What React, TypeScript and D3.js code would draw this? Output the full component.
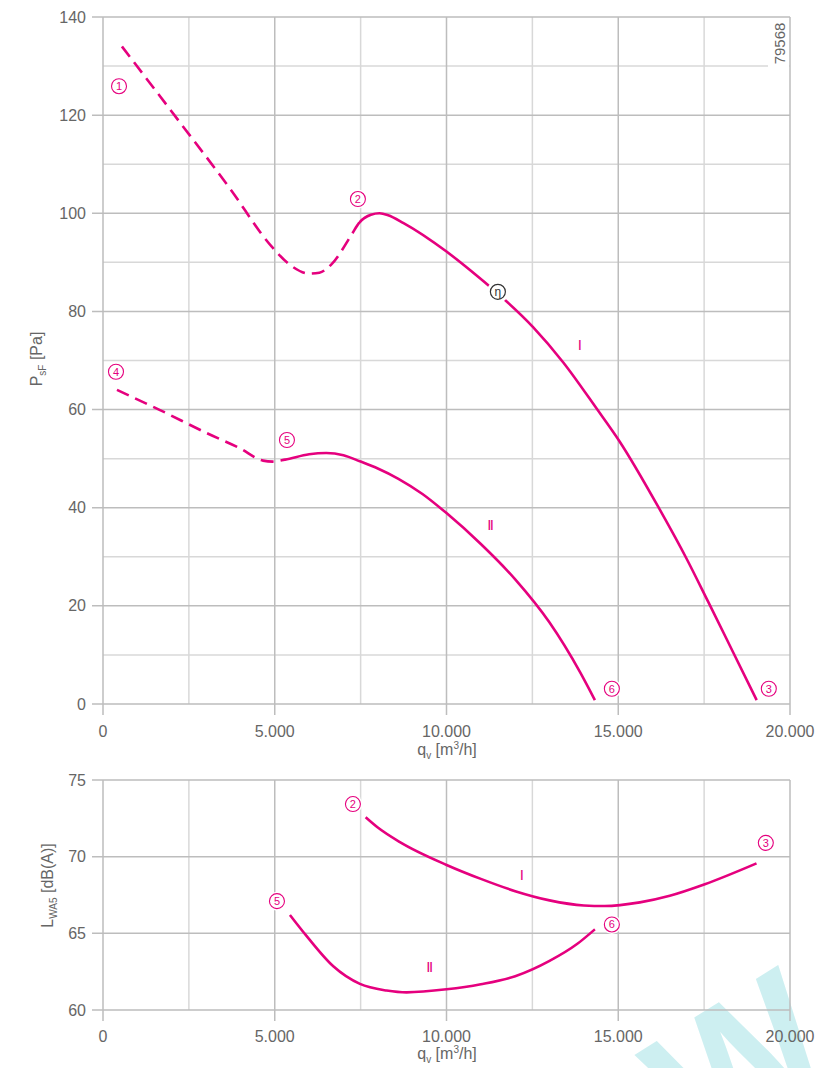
import React from "react";
import * as d3 from "d3";

// ---------- data ----------
// Pressure curve I [qv m3/h, Pa]: dashed (unstable) part, then solid part
const pIdashed: [number, number][] = [
  [550, 134], [2100, 119.8], [3700, 105], [4900, 93.3], [5500, 89.2], [6000, 87.7],
  [6300, 87.9], [6650, 89.6], [7250, 95.8],
];
const pIsolid: [number, number][] = [
  [7450, 98], [7800, 99.7], [8050, 100], [8300, 99.6], [8750, 98], [10000, 92.2],
  [11000, 86.6], [11500, 83.6], [12520, 76.8], [13400, 69.6], [14370, 60.2], [15030, 53.6],
  [16210, 39.6], [16990, 29.6], [17620, 20.8], [18340, 10.6], [19030, 0.8],
];
// Pressure curve II
const pIIdashed: [number, number][] = [
  [407, 64], [1660, 59.9], [3020, 55.2], [3990, 52.1], [4660, 49.6], [4940, 49.4],
];
const pIIsolid: [number, number][] = [
  [5300, 49.8], [6000, 50.9], [6500, 51.15], [7000, 50.7], [7500, 49.4], [8000, 48.0],
  [8600, 45.9], [9300, 42.8], [10000, 38.9], [11000, 32.6], [12000, 25.4], [13000, 16.6],
  [13880, 6.6], [14320, 0.8],
];
// Sound power curves [qv, dB(A)]
const sI: [number, number][] = [
  [7646, 72.57], [8000, 71.9], [8644, 70.95], [10003, 69.46], [11000, 68.55], [12000, 67.75],
  [13000, 67.15], [14000, 66.82], [14600, 66.78], [15629, 67.02], [16500, 67.45],
  [17520, 68.2], [19025, 69.56],
];
const sII: [number, number][] = [
  [5442, 66.2], [5900, 64.9], [6704, 62.85], [7480, 61.7], [8257, 61.27], [8839, 61.15],
  [10003, 61.35], [11000, 61.68], [12000, 62.2], [13000, 63.2], [13800, 64.3], [14319, 65.26],
];

// point markers (label, qv, value)
const pMarkers: [string, number, number][] = [
  ["1", 466, 125.9], ["2", 7421, 102.9], ["3", 19383, 3.1],
  ["4", 378, 67.7], ["5", 5355, 53.8], ["6", 14814, 3.1],
];
const sMarkers: [string, number, number][] = [
  ["2", 7276, 73.43], ["3", 19296, 70.9], ["5", 5064, 67.1], ["6", 14814, 65.58],
];
const pCurveLabels: [string, number, number][] = [["I", 13882, 73.2], ["II", 11263, 36.5]];
const sCurveLabels: [string, number, number][] = [["I", 12194, 68.8], ["II", 9488, 62.8]];
const etaPoint: [number, number] = [11496, 84];

const xTicks = [0, 5000, 10000, 15000, 20000];
const xTickLabels = ["0", "5.000", "10.000", "15.000", "20.000"];
const xMinor = [2500, 7500, 12500, 17500];
const pTicks = [0, 20, 40, 60, 80, 100, 120, 140];
const pMinor = [10, 30, 50, 70, 90, 110, 130];
const sTicks = [60, 65, 70, 75];

const PINK = "#e5007e";
const MAJOR = "#bdbdbd";
const MINOR = "#d8d8d8";
const TXT = "#666666";
const FONT = "'Liberation Sans', Arial, sans-serif";

export default function App() {
  const x = d3.scaleLinear().domain([0, 20000]).range([103, 790]);
  const yP = d3.scaleLinear().domain([0, 140]).range([704, 17]);
  const yS = d3.scaleLinear().domain([60, 75]).range([1010, 780]);

  const lineP = d3.line<[number, number]>().x((d) => x(d[0])).y((d) => yP(d[1])).curve(d3.curveMonotoneX);
  const lineS = d3.line<[number, number]>().x((d) => x(d[0])).y((d) => yS(d[1])).curve(d3.curveMonotoneX);

  const grid = (y: d3.ScaleLinear<number, number>, majors: number[], minors: number[]) => {
    const [yb, yt] = y.range();
    return (
      <g>
        {xMinor.map((v) => (
          <line key={"xm" + v} x1={x(v)} x2={x(v)} y1={yt} y2={yb} stroke={MINOR} strokeWidth={1.5} />
        ))}
        {minors.map((v) => (
          <line key={"ym" + v} x1={103} x2={790} y1={y(v)} y2={y(v)} stroke={MINOR} strokeWidth={1.5} />
        ))}
        {majors.map((v) => (
          <line key={"yM" + v} x1={92} x2={790} y1={y(v)} y2={y(v)} stroke={MAJOR} strokeWidth={1.5} />
        ))}
        {xTicks.map((v) => (
          <line key={"xM" + v} x1={x(v)} x2={x(v)} y1={yt} y2={yb + 11} stroke={MAJOR} strokeWidth={1.5} />
        ))}
      </g>
    );
  };

  const marker = (m: [string, number, number], y: d3.ScaleLinear<number, number>) => (
    <g key={m[0] + m[1]} transform={`translate(${x(m[1])},${y(m[2])})`}>
      <circle r={9.5} fill="#fff" />
      <circle r={7.5} fill="#fff" stroke={PINK} strokeWidth={1.1} />
      <text textAnchor="middle" dy={4} fontSize={11} fill={PINK} fontFamily={FONT}>{m[0]}</text>
    </g>
  );

  const curveLabel = (c: [string, number, number], y: d3.ScaleLinear<number, number>) => (
    <text key={c[0]} x={x(c[1])} y={y(c[2])} dy={5} textAnchor="middle" fontSize={15} fill={PINK}
      fontFamily={FONT} letterSpacing={c[0] === "II" ? -1.5 : 0}>{c[0]}</text>
  );

  // split a continuous curve into dashed and solid parts by clipping at the first solid point
  const splitCurve = (id: string, dashed: [number, number][], solid: [number, number][]) => {
    const d = lineP([...dashed, ...solid]) ?? "";
    const sx = x(solid[0][0]);
    return (
      <g key={id}>
        <defs>
          <clipPath id={id + "a"}><rect x={0} y={0} width={sx} height={760} /></clipPath>
          <clipPath id={id + "b"}><rect x={sx} y={0} width={818 - sx} height={760} /></clipPath>
        </defs>
        <path d={d} fill="none" stroke={PINK} strokeWidth={2.6} strokeDasharray="13 7" clipPath={`url(#${id}a)`} />
        <path d={d} fill="none" stroke={PINK} strokeWidth={2.6} clipPath={`url(#${id}b)`} />
      </g>
    );
  };

  return (
    <svg width={818} height={1068} style={{ position: "absolute", left: 0, top: 0, background: "#fff" }}
      fontFamily={FONT}>
      <rect width={818} height={1068} fill="#fff" />
      {/* watermark */}
      <defs>
        <clipPath id="wm"><rect x={0} y={0} width={818} height={1068} /></clipPath>
      </defs>
      <g clipPath="url(#wm)">
        <text transform="translate(700,1160) rotate(-32)" fontSize={180} fontWeight="bold" fill="#cdeff1"
          fontFamily={FONT}>W.D</text>
      </g>

      {/* ---------- top chart ---------- */}
      {grid(yP, pTicks, pMinor)}
      {pTicks.map((v) => (
        <text key={"pt" + v} x={86} y={yP(v)} dy={5.5} textAnchor="end" fontSize={16} fill={TXT}>{v}</text>
      ))}
      {xTicks.map((v, i) => (
        <text key={"xt" + v} x={x(v)} y={737} textAnchor="middle" fontSize={16} fill={TXT}>{xTickLabels[i]}</text>
      ))}
      <text x={447} y={755} textAnchor="middle" fontSize={16} fill={TXT}>
        q<tspan fontSize={10} dy={4}>v</tspan><tspan dy={-4}> [m</tspan><tspan fontSize={10} dy={-6}>3</tspan><tspan dy={6}>/h]</tspan>
      </text>
      <text transform="translate(42,359) rotate(-90)" textAnchor="middle" fontSize={16} fill={TXT}>
        P<tspan fontSize={10} dy={4}>sF</tspan><tspan dy={-4}> [Pa]</tspan>
      </text>
      <rect x={768} y={19} width={21} height={50} fill="#fff" />
      <text transform="translate(785,43.5) rotate(-90)" textAnchor="middle" fontSize={15} fill={TXT}>79568</text>

      {splitCurve("cI", pIdashed, pIsolid)}
      {splitCurve("cII", pIIdashed, pIIsolid)}

      <g transform={`translate(${x(etaPoint[0])},${yP(etaPoint[1])})`}>
        <circle r={11} fill="#fff" />
        <circle r={7.5} fill="#fff" stroke="#333" strokeWidth={1.2} />
        <text textAnchor="middle" dy={4} fontSize={12} fill="#333">η</text>
      </g>
      {pMarkers.map((m) => marker(m, yP))}
      {pCurveLabels.map((c) => curveLabel(c, yP))}

      {/* ---------- bottom chart ---------- */}
      {grid(yS, sTicks, [])}
      {sTicks.map((v) => (
        <text key={"st" + v} x={86} y={yS(v)} dy={5.5} textAnchor="end" fontSize={16} fill={TXT}>{v}</text>
      ))}
      {xTicks.map((v, i) => (
        <text key={"xb" + v} x={x(v)} y={1041.5} textAnchor="middle" fontSize={16} fill={TXT}>{xTickLabels[i]}</text>
      ))}
      <text x={447} y={1059} textAnchor="middle" fontSize={16} fill={TXT}>
        q<tspan fontSize={10} dy={4}>v</tspan><tspan dy={-4}> [m</tspan><tspan fontSize={10} dy={-6}>3</tspan><tspan dy={6}>/h]</tspan>
      </text>
      <text transform="translate(53,885.5) rotate(-90)" textAnchor="middle" fontSize={16} fill={TXT}>
        L<tspan fontSize={10} dy={4}>WA5</tspan><tspan dy={-4}> [dB(A)]</tspan>
      </text>

      <path d={lineS(sI) ?? ""} fill="none" stroke={PINK} strokeWidth={2.6} />
      <path d={lineS(sII) ?? ""} fill="none" stroke={PINK} strokeWidth={2.6} />
      {sMarkers.map((m) => marker(m, yS))}
      {sCurveLabels.map((c) => curveLabel(c, yS))}
    </svg>
  );
}
